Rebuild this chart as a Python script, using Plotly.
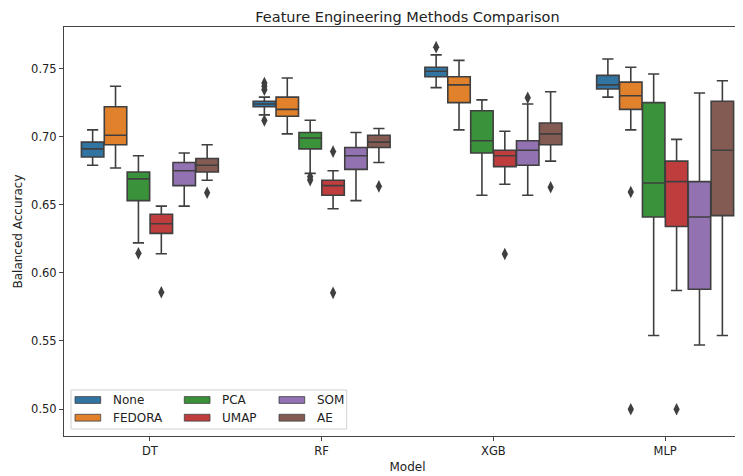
import plotly.graph_objects as go

models = ["DT", "RF", "XGB", "MLP"]
methods = ["None", "FEDORA", "PCA", "UMAP", "SOM", "AE"]
colors = ["#3274a1", "#e1812c", "#3a923a", "#c03d3e", "#9372b2", "#845b53"]

# box stats per method, one value per model (DT, RF, XGB, MLP)
lower = {
    "None":   [0.679, 0.716, 0.736, 0.729],
    "FEDORA": [0.677, 0.702, 0.705, 0.705],
    "PCA":    [0.622, 0.673, 0.657, 0.554],
    "UMAP":   [0.614, 0.647, 0.665, 0.587],
    "SOM":    [0.649, 0.653, 0.657, 0.547],
    "AE":     [0.668, 0.681, 0.682, 0.554],
}
q1 = {
    "None":   [0.685, 0.722, 0.744, 0.735],
    "FEDORA": [0.694, 0.715, 0.725, 0.720],
    "PCA":    [0.653, 0.691, 0.688, 0.641],
    "UMAP":   [0.629, 0.657, 0.678, 0.634],
    "SOM":    [0.664, 0.676, 0.679, 0.588],
    "AE":     [0.674, 0.692, 0.694, 0.642],
}
median = {
    "None":   [0.691, 0.724, 0.748, 0.738],
    "FEDORA": [0.701, 0.720, 0.738, 0.730],
    "PCA":    [0.669, 0.699, 0.697, 0.666],
    "UMAP":   [0.636, 0.664, 0.686, 0.667],
    "SOM":    [0.675, 0.686, 0.690, 0.641],
    "AE":     [0.679, 0.696, 0.702, 0.690],
}
q3 = {
    "None":   [0.696, 0.726, 0.751, 0.745],
    "FEDORA": [0.722, 0.729, 0.744, 0.740],
    "PCA":    [0.674, 0.703, 0.719, 0.725],
    "UMAP":   [0.643, 0.668, 0.690, 0.682],
    "SOM":    [0.681, 0.692, 0.697, 0.667],
    "AE":     [0.684, 0.701, 0.710, 0.726],
}
upper = {
    "None":   [0.705, 0.729, 0.760, 0.757],
    "FEDORA": [0.737, 0.743, 0.756, 0.751],
    "PCA":    [0.686, 0.712, 0.727, 0.746],
    "UMAP":   [0.649, 0.675, 0.704, 0.698],
    "SOM":    [0.688, 0.703, 0.724, 0.732],
    "AE":     [0.694, 0.706, 0.733, 0.741],
}

# outliers: (model index, value)
outliers = {
    "None":   [(1, 0.7394), (1, 0.737), (1, 0.7345), (1, 0.7119), (2, 0.7657)],
    "FEDORA": [(3, 0.6593), (3, 0.4998)],
    "PCA":    [(0, 0.6143), (1, 0.6706), (1, 0.6681)],
    "UMAP":   [(0, 0.5858), (1, 0.689), (1, 0.5853), (2, 0.6138), (3, 0.4998)],
    "SOM":    [(2, 0.7286)],
    "AE":     [(0, 0.6588), (1, 0.6635), (2, 0.6628)],
}

line_col = "#3f3f3f"
n = len(methods)
step = 0.8 / n

fig = go.Figure()
for k, m in enumerate(methods):
    off = (k - (n - 1) / 2) * step
    xs = [i + off for i in range(len(models))]
    fig.add_trace(go.Box(
        x=xs, q1=q1[m], median=median[m], q3=q3[m],
        lowerfence=lower[m], upperfence=upper[m],
        width=step * 0.98, whiskerwidth=0.5,
        fillcolor=colors[k], line=dict(color=line_col, width=1.6),
        name=m, boxpoints=False, showlegend=False,
    ))
    pts = outliers[m]
    fig.add_trace(go.Scatter(
        x=[p[0] + off for p in pts], y=[p[1] for p in pts],
        mode="markers", showlegend=False, name=m,
        marker=dict(symbol="diamond-tall", size=9, color=line_col),
    ))

# page has an 8px body margin, so margins are shifted to compensate
L, T, W, H = 56, 19, 687, 409


def px(x):
    return (x - 8 - L) / W


def py(y):
    return (T + H - (y - 8)) / H


# matplotlib-style legend: 3 columns x 2 rows, drawn with shapes + text
shapes = [dict(type="rect", xref="paper", yref="paper",
               x0=px(71), x1=px(346.7), y0=py(429), y1=py(390),
               line=dict(color="#d0d0d0", width=1), fillcolor="rgba(255,255,255,0.8)")]
annotations = []
col_x = [75, 184.3, 279]
row_y = [400, 417.7]
for k, m in enumerate(methods):
    cx, ry = col_x[k // 2], row_y[k % 2]
    shapes.append(dict(type="rect", xref="paper", yref="paper",
                       x0=px(cx), x1=px(cx + 25.7), y0=py(ry + 3.4), y1=py(ry - 3.4),
                       fillcolor=colors[k], line=dict(color=line_col, width=0.8)))
    annotations.append(dict(text=m, xref="paper", yref="paper", x=px(cx + 35.5), y=py(ry),
                            xanchor="left", yanchor="middle", showarrow=False,
                            font=dict(size=12, color="#222")))

fig.update_layout(
    width=743, height=476,
    margin=dict(l=L, r=0, t=T, b=476 - T - H),
    paper_bgcolor="white", plot_bgcolor="white",
    font=dict(family="DejaVu Sans", size=11.5, color="#222"),
    title=dict(text="Feature Engineering Methods Comparison", xref="paper", x=0.5,
               xanchor="center", y=1 - 8.7 / 476, yanchor="middle",
               font=dict(size=14.5)),
    shapes=shapes, annotations=annotations, showlegend=False,
)
fig.update_xaxes(
    range=[-0.5, 3.5], tickvals=list(range(len(models))), ticktext=models,
    showgrid=False, zeroline=False, showline=True, linecolor="#444", linewidth=1,
    mirror=True, ticks="outside", ticklen=4, tickcolor="#444", automargin=False,
    title=dict(text="Model", standoff=5, font=dict(size=12)),
)
fig.update_yaxes(
    range=[0.4802, 0.7805], tickvals=[0.50, 0.55, 0.60, 0.65, 0.70, 0.75],
    tickformat=".2f", showgrid=False, zeroline=False, showline=True, mirror=True,
    linecolor="#444", linewidth=1, ticks="outside", ticklen=4, tickcolor="#444",
    automargin=False,
    title=dict(text="Balanced Accuracy", standoff=5, font=dict(size=12)),
)
fig.write_html("out.html")
